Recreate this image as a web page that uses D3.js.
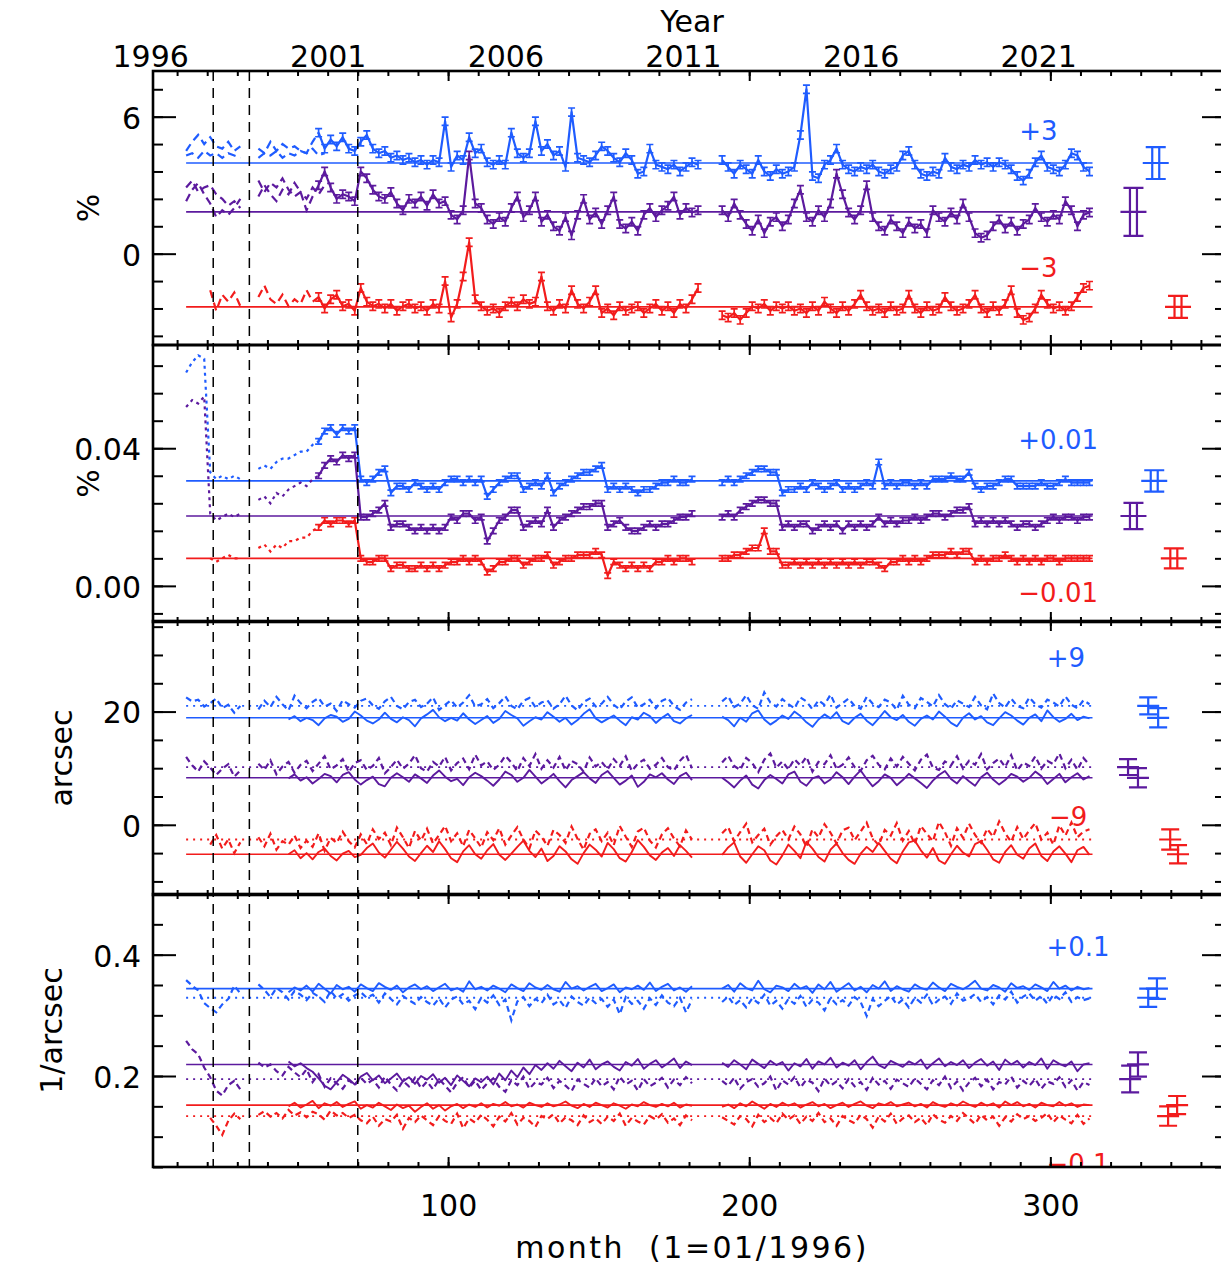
<!DOCTYPE html>
<html><head><meta charset="utf-8">
<script src="https://cdn.jsdelivr.net/npm/d3@7/dist/d3.min.js"></script>
<style>
html,body{margin:0;padding:0;background:#fff;}
svg{display:block;}
text{font-family:"DejaVu Sans",sans-serif;}
</style></head>
<body>
<svg id="chart" width="1221" height="1269" xmlns="http://www.w3.org/2000/svg"></svg>
<script>
// ---------------- DATA ----------------
const months = d3.range(13, 314, 2);        // 13,15,...,313
const earlyMonths = d3.range(13, 60, 2);    // 13..59
const monthTicks = d3.range(10, 360, 10);
const monthLabels = [100, 200, 300];
const yearTicks = [1996, 2001, 2006, 2011, 2016, 2021];
const yearDomain = [1996.08, 2026.26];
const eventMonths = [22, 34, 70];
const colorNames = ['blue', 'purple', 'red'];

// Panel 1 (%), plotted with offsets +3 / 0 / -3
const p1Blue = [
4.5,4.9,5.2,4.8,5.1,4.7,4.6,4.9,4.5,4.7,
null,null,4.6,4.4,4.9,4.5,4.8,4.6,4.7,4.5,
4.4,4.9,5.3,4.6,5.0,4.7,5.1,4.6,4.5,4.9,
5.2,4.6,4.4,4.5,4.2,4.3,4.1,4.2,4.0,4.1,
3.9,4.1,4.0,5.8,3.8,4.3,4.1,5.1,4.4,4.6,
4.0,3.9,4.1,3.9,5.3,4.4,4.2,4.4,5.8,4.5,
4.8,4.3,4.5,3.8,6.2,4.2,4.1,4.0,4.3,4.7,
4.5,4.2,4.0,4.4,4.1,3.5,3.6,4.6,3.9,3.8,
3.7,3.9,3.6,3.8,4.0,3.9,null,null,null,4.1,
3.8,3.5,3.9,3.7,3.5,4.1,3.6,3.4,3.7,3.5,
3.6,3.8,5.2,7.2,3.4,3.3,3.9,4.1,4.6,3.9,
3.7,3.6,3.8,3.7,3.9,3.6,3.5,3.7,3.8,4.3,
4.5,3.9,3.5,3.4,3.6,3.5,4.2,3.8,3.7,3.9,
3.8,4.1,3.9,4.0,3.8,4.0,3.9,3.7,3.4,3.2,
3.5,4.0,4.3,3.8,3.7,3.6,3.9,4.4,4.3,3.8,
3.6];
const p1BlueEarly = [4.3,4.4,4.2,4.5,4.3,4.4,4.2,4.4,4.3,4.2,null,null,4.2,4.4,4.3,4.5,4.2,4.4,4.3,4.5,4.4,4.6,4.3,4.4];
const p1Purple = [
2.3,2.8,3.1,2.6,2.2,1.6,1.9,1.7,2.0,2.4,
null,null,2.5,3.0,2.6,2.3,2.8,2.6,3.1,2.7,
1.9,2.5,3.0,3.6,2.9,2.4,2.6,2.5,2.3,3.6,
3.3,2.8,2.5,2.4,2.7,2.2,1.9,2.4,2.2,2.5,
2.1,2.6,2.2,2.3,1.7,1.5,1.9,4.3,2.2,2.0,
1.5,1.3,1.6,1.4,2.0,2.5,1.6,1.9,2.5,1.4,
1.7,1.2,1.0,1.6,0.8,1.7,2.4,1.5,1.8,1.3,
1.9,2.5,1.3,1.1,1.4,1.0,1.7,2.0,1.6,1.9,
2.1,2.5,1.7,2.0,1.8,1.9,null,null,null,1.9,
1.6,2.2,1.7,1.3,1.0,1.5,0.9,1.4,1.6,1.2,
1.5,2.2,2.8,1.6,1.4,1.9,1.6,2.2,3.5,2.6,
1.8,1.5,1.9,3.0,1.6,1.2,1.0,1.5,1.2,0.9,
1.4,1.1,1.3,0.9,1.9,1.6,1.4,1.8,1.5,2.2,
1.6,0.9,0.7,0.8,1.2,1.5,1.1,1.4,1.0,1.3,
1.5,2.0,1.6,1.4,1.7,1.5,2.3,1.9,1.2,1.7,
1.8];
const p1PurpleEarly = [2.9,3.2,2.7,2.9,3.0,2.6,2.4,2.1,2.3,2.0,null,null,3.2,2.7,3.1,2.9,3.3,2.8,2.5,2.7,2.4,2.9,2.6,3.0];
const p1Red = [
null,null,null,null,-1.6,-2.5,-1.8,-2.1,-1.7,-2.3,
null,null,-1.9,-1.4,-2.0,-2.2,-1.8,-2.3,-2.0,-2.2,
-1.6,-2.1,-1.9,-2.4,-2.0,-1.8,-2.3,-2.2,-2.5,-1.5,
-2.1,-2.3,-2.2,-2.4,-2.2,-2.5,-2.3,-2.2,-2.4,-2.3,
-2.5,-2.2,-2.4,-1.2,-2.8,-2.2,-1.0,0.5,-2.0,-2.3,
-2.5,-2.4,-2.6,-2.3,-2.1,-2.3,-2.0,-2.2,-2.1,-1.0,
-2.3,-2.5,-2.2,-2.4,-1.6,-2.2,-2.4,-2.1,-1.6,-2.6,
-2.4,-2.7,-2.3,-2.5,-2.4,-2.3,-2.6,-2.4,-2.2,-2.5,
-2.3,-2.6,-2.2,-2.4,-2.0,-1.5,null,null,null,-2.7,
-2.8,-2.6,-2.9,-2.6,-2.3,-2.4,-2.2,-2.5,-2.3,-2.4,
-2.3,-2.5,-2.4,-2.6,-2.3,-2.5,-2.1,-2.4,-2.6,-2.3,
-2.5,-2.2,-1.8,-2.3,-2.5,-2.4,-2.6,-2.3,-2.5,-2.4,
-1.8,-2.4,-2.6,-2.3,-2.5,-2.4,-1.9,-2.3,-2.5,-2.4,
-2.2,-1.8,-2.4,-2.6,-2.3,-2.5,-2.2,-1.6,-2.6,-2.9,
-2.8,-2.4,-1.8,-2.2,-2.4,-2.3,-2.5,-2.3,-1.9,-1.5,
-1.4];

// Panel 2 (%), offsets +0.01 / 0 / -0.01
const p2Blue = [
0.062,0.065,0.067,0.066,0.033,0.031,0.032,0.031,0.032,0.031,
null,null,0.034,0.035,0.034,0.036,0.037,0.037,0.038,0.039,
0.039,0.041,0.042,0.045,0.046,0.044,0.046,0.045,0.046,0.031,
0.030,0.031,0.033,0.034,0.027,0.029,0.029,0.028,0.030,0.029,
0.028,0.029,0.028,0.030,0.031,0.031,0.030,0.031,0.030,0.031,
0.026,0.028,0.030,0.031,0.032,0.032,0.028,0.029,0.030,0.029,
0.032,0.027,0.029,0.030,0.031,0.032,0.033,0.033,0.034,0.035,
0.028,0.029,0.028,0.029,0.028,0.027,0.028,0.028,0.029,0.030,
0.030,0.031,0.030,0.030,0.031,null,null,null,null,0.030,
0.031,0.030,0.031,0.032,0.033,0.034,0.034,0.033,0.033,0.027,
0.028,0.028,0.029,0.028,0.030,0.029,0.028,0.029,0.030,0.028,
0.029,0.028,0.029,0.030,0.029,0.036,0.029,0.030,0.029,0.030,
0.030,0.029,0.030,0.029,0.031,0.031,0.031,0.032,0.031,0.031,
0.033,0.029,0.028,0.029,0.029,0.030,0.031,0.031,0.029,0.029,
0.029,0.029,0.030,0.029,0.029,0.030,0.031,0.030,0.030,0.030,
0.030];
const p2Purple = [
0.052,0.054,0.053,0.055,0.021,0.019,0.020,0.021,0.020,0.021,
null,null,0.025,0.026,0.024,0.027,0.026,0.028,0.029,0.030,
0.029,0.031,0.032,0.035,0.037,0.036,0.038,0.037,0.038,0.020,
0.020,0.021,0.022,0.024,0.017,0.018,0.018,0.017,0.016,0.017,
0.016,0.017,0.016,0.017,0.020,0.019,0.021,0.021,0.019,0.020,
0.013,0.016,0.019,0.020,0.022,0.022,0.017,0.018,0.019,0.018,
0.022,0.017,0.019,0.020,0.021,0.022,0.023,0.023,0.024,0.024,
0.017,0.018,0.019,0.017,0.016,0.016,0.017,0.018,0.017,0.018,
0.018,0.019,0.020,0.020,0.021,null,null,null,null,0.020,
0.021,0.020,0.022,0.023,0.024,0.025,0.025,0.024,0.024,0.017,
0.018,0.017,0.018,0.018,0.016,0.017,0.018,0.017,0.018,0.016,
0.018,0.017,0.018,0.017,0.018,0.020,0.018,0.019,0.018,0.019,
0.019,0.020,0.019,0.020,0.021,0.021,0.020,0.021,0.022,0.022,
0.023,0.018,0.019,0.018,0.019,0.018,0.019,0.018,0.017,0.018,
0.018,0.017,0.018,0.019,0.020,0.019,0.020,0.020,0.019,0.020,
0.020];
const p2Red = [
null,null,null,null,0.008,0.007,0.008,0.009,0.008,0.008,
null,null,0.011,0.012,0.010,0.012,0.011,0.013,0.013,0.014,
0.014,0.016,0.017,0.019,0.018,0.019,0.019,0.018,0.019,0.008,
0.007,0.007,0.008,0.008,0.005,0.006,0.006,0.005,0.005,0.006,
0.005,0.006,0.005,0.006,0.007,0.007,0.008,0.007,0.008,0.007,
0.004,0.005,0.007,0.007,0.008,0.008,0.006,0.007,0.008,0.008,
0.009,0.006,0.007,0.008,0.008,0.009,0.009,0.009,0.010,0.009,
0.003,0.007,0.006,0.005,0.006,0.005,0.006,0.005,0.007,0.007,
0.008,0.007,0.008,0.008,0.007,null,null,null,null,0.008,
0.008,0.009,0.009,0.010,0.011,0.011,0.016,0.010,0.010,0.006,
0.006,0.007,0.006,0.007,0.006,0.007,0.006,0.007,0.006,0.007,
0.006,0.007,0.006,0.007,0.007,0.006,0.005,0.007,0.007,0.008,
0.007,0.008,0.007,0.008,0.009,0.009,0.009,0.010,0.009,0.010,
0.010,0.007,0.008,0.007,0.008,0.008,0.009,0.008,0.007,0.008,
0.007,0.008,0.007,0.008,0.008,0.007,0.008,0.008,0.008,0.008,
0.008];

// Panel 3 (arcsec), offsets +9 / 0 / -9 ; solid and dashed series
const p3BlueSolid = [
null,null,null,null,null,null,null,null,null,null,
null,null,null,null,null,null,null,18.6,19.2,18.3,
18.9,18.5,17.6,18.8,19.4,19.1,18.2,18.7,20.0,19.3,
18.4,17.9,18.6,19.8,18.7,18.1,19.0,18.5,17.4,18.8,
19.5,20.3,19.0,18.3,18.9,18.4,19.7,18.6,17.8,18.5,
19.2,18.0,18.7,20.1,19.4,18.8,17.5,18.3,19.0,18.6,
19.9,19.1,18.2,18.9,17.7,18.5,19.6,20.4,18.8,18.1,
18.7,19.3,18.4,17.6,19.0,18.6,19.8,19.2,18.0,18.9,
19.6,18.3,17.9,18.8,19.4,null,null,null,null,19.1,
18.5,17.4,18.9,18.2,19.7,20.2,18.6,17.7,18.4,19.3,
18.7,20.0,19.2,18.1,17.3,18.6,19.5,18.8,19.9,18.3,
17.8,18.9,19.6,18.4,17.6,18.8,20.1,19.0,18.5,19.4,
18.2,17.5,18.7,19.3,18.6,20.0,19.1,18.0,17.4,18.9,
19.7,18.6,19.2,18.1,17.6,18.8,19.9,19.3,18.4,17.7,
18.9,19.5,18.3,20.2,19.0,18.2,18.7,19.6,18.5,19.1,
18.8];
const p3BlueDash = [
22.5,21.8,22.1,20.9,21.5,22.3,20.6,21.2,19.8,21.0,
null,null,20.4,21.9,20.8,22.6,21.3,20.2,22.8,21.5,
20.6,21.7,22.4,20.9,21.4,20.1,22.0,21.3,20.7,21.9,
22.3,21.1,20.5,21.8,22.6,21.0,20.4,21.7,22.1,20.8,
21.4,22.5,20.3,21.2,22.0,20.7,21.6,22.9,20.9,21.3,
22.2,20.6,21.5,22.7,21.0,20.4,21.9,22.4,20.8,21.6,
22.0,20.5,21.3,22.8,21.1,20.2,21.7,22.3,20.9,21.4,
22.6,21.2,20.4,21.8,22.5,20.7,21.3,22.1,20.6,21.9,
22.4,21.0,20.3,21.6,22.2,null,null,null,null,21.8,
22.7,20.8,21.4,22.9,21.1,20.5,23.4,21.6,20.9,22.2,
21.3,20.6,22.5,21.8,20.4,22.0,21.2,23.0,20.7,21.5,
22.3,21.0,20.5,22.6,21.4,20.8,22.1,21.6,20.3,22.8,
21.2,20.6,22.4,21.7,20.9,22.9,21.3,20.5,22.0,21.4,
20.8,22.6,21.1,20.4,23.2,21.5,20.7,22.3,21.0,20.6,
22.5,21.3,20.7,22.1,21.6,20.9,22.7,21.2,20.6,22.0,
21.3];
const p3PurpleSolid = [
null,null,null,null,null,null,null,null,null,null,
null,null,null,null,null,null,null,8.2,8.9,7.8,
8.4,7.3,8.1,9.0,8.6,7.5,8.8,9.3,8.0,7.1,
7.9,8.5,7.2,6.8,8.3,9.1,8.4,7.6,8.9,8.2,
7.4,8.7,9.6,8.5,7.7,8.1,7.0,8.4,9.2,8.6,
7.8,6.9,8.0,9.4,8.8,7.6,8.3,9.7,8.5,7.3,
8.1,9.0,7.7,6.6,7.9,8.6,9.3,8.2,7.4,8.8,
9.5,8.3,7.1,7.8,8.7,6.7,7.6,8.9,8.4,9.1,
8.0,7.2,8.6,9.2,7.9,null,null,null,null,8.3,
7.5,6.6,7.8,8.7,7.1,6.4,7.9,8.8,8.1,7.3,
8.9,9.4,7.6,6.9,8.2,8.6,7.3,8.0,9.3,8.4,
7.2,8.5,9.6,8.1,6.8,7.7,8.9,8.3,7.0,7.9,
9.0,8.2,7.4,6.5,7.8,8.8,9.5,8.1,7.3,8.6,
7.7,6.9,8.4,9.2,8.0,7.1,7.9,9.0,8.5,7.6,
8.3,9.4,8.6,7.2,8.1,9.0,7.5,8.4,9.1,8.0,
8.6];
const p3PurpleDash = [
12.0,10.5,9.4,11.2,10.1,8.8,9.9,10.7,8.5,9.6,
null,null,10.8,9.7,11.4,8.9,10.3,11.1,9.2,10.6,
11.3,9.5,10.8,12.1,9.8,10.5,11.6,9.3,10.9,11.4,
9.7,10.4,11.8,9.1,10.2,11.5,9.9,10.8,12.3,10.0,
9.4,11.1,10.3,12.0,9.6,10.9,11.7,9.8,12.4,10.5,
11.2,9.7,10.6,12.2,11.0,9.5,11.8,10.4,12.5,9.9,
11.4,10.1,12.0,9.6,11.3,10.7,9.4,11.9,10.3,11.1,
9.8,11.6,10.4,12.1,9.5,10.8,11.5,9.9,10.6,11.8,
10.2,9.6,11.3,12.4,10.0,null,null,null,null,11.0,
12.2,10.4,9.7,11.8,10.9,9.3,11.5,12.6,10.1,11.2,
9.8,11.6,10.5,12.0,9.4,11.1,10.7,12.3,9.9,10.6,
11.9,10.2,9.5,11.4,12.2,10.6,9.8,11.7,10.3,12.0,
10.8,9.6,11.5,12.4,10.1,9.7,11.2,10.5,12.1,9.9,
11.3,10.6,12.5,9.8,10.9,11.7,10.2,12.3,9.6,11.0,
10.4,12.1,9.9,11.3,10.7,12.6,10.0,11.5,9.7,11.8,
10.6];
const p3RedSolid = [
null,null,null,null,null,null,null,null,null,null,
null,null,null,null,null,null,null,-5.2,-4.5,-5.9,
-5.0,-6.1,-4.8,-4.2,-5.5,-6.3,-5.1,-4.6,-5.7,-5.3,
-4.1,-3.3,-4.9,-5.8,-4.4,-3.0,-4.2,-5.6,-6.4,-5.0,
-3.7,-4.8,-2.9,-4.3,-5.9,-6.6,-4.7,-3.6,-5.2,-6.0,
-4.5,-3.4,-5.3,-6.2,-5.1,-3.9,-2.8,-4.6,-5.7,-4.2,
-6.4,-5.5,-3.8,-4.7,-6.1,-6.9,-5.0,-3.5,-4.4,-5.6,
-3.2,-4.3,-5.9,-6.5,-4.8,-2.7,-3.9,-5.4,-6.2,-4.9,
-4.1,-5.5,-3.6,-4.6,-5.8,null,null,null,null,-5.3,
-4.0,-3.1,-5.6,-6.7,-5.2,-3.8,-4.5,-6.3,-7.0,-5.4,
-3.5,-4.6,-5.9,-3.0,-4.2,-5.7,-6.5,-4.4,-3.3,-5.0,
-6.2,-6.9,-5.1,-3.9,-4.8,-3.2,-4.6,-6.0,-6.8,-4.7,
-3.1,-2.8,-4.5,-5.8,-4.1,-6.3,-6.9,-5.2,-3.7,-4.9,
-5.6,-3.4,-2.9,-4.4,-6.1,-6.7,-4.8,-3.6,-5.3,-6.0,
-4.2,-3.3,-5.5,-6.4,-4.7,-3.8,-5.1,-6.6,-4.5,-3.9,
-5.3];
const p3RedDash = [
null,null,null,null,-3.5,-1.8,-4.2,-2.6,-5.0,-3.1,
null,null,-2.2,-3.8,-1.6,-4.4,-2.9,-3.5,-1.9,-4.1,
-2.8,-3.9,-1.5,-4.6,-2.3,-3.2,-1.2,-2.9,-4.0,-1.7,
-3.4,-0.8,-2.5,-1.4,-3.6,-0.5,-2.2,-4.1,-1.1,-2.8,
-0.7,-3.3,-1.8,-0.2,-2.9,-1.5,-3.8,-0.9,-2.4,-4.0,
-1.3,-2.7,-0.6,-3.5,-1.9,-0.4,-2.6,-4.2,-1.0,-2.1,
-3.7,-0.9,-1.8,-3.2,-0.3,-2.5,-4.4,-1.6,-0.8,-2.9,
-1.4,-3.6,-0.2,-2.1,-3.9,-1.2,-0.5,-2.8,-4.0,-1.7,
-0.6,-2.4,-3.8,-1.0,-2.6,null,null,null,null,-1.5,
-0.4,-2.9,-1.3,0.2,-3.1,-1.8,-0.7,-3.5,-2.0,-0.9,
-2.6,-0.3,-1.7,-3.9,-0.8,-2.2,0.1,-1.4,-3.3,-1.0,
-0.5,-2.7,-1.2,0.4,-2.4,-3.6,-0.9,-1.9,0.3,-2.8,
-1.1,-3.4,-0.2,-1.6,-2.9,0.5,-1.3,-3.7,-0.6,-2.3,
0.2,-1.8,-3.2,-0.7,-2.1,0.6,-1.5,-3.0,-0.4,-2.5,
-1.0,0.3,-2.6,-1.4,-3.5,-0.1,-1.9,0.4,-2.2,-1.2,
-0.8];

// Panel 4 (1/arcsec), offsets +0.1 / 0 / -0.1 ; solid and dashed series
const p4BlueSolid = [
null,null,null,null,null,null,null,null,null,null,
null,null,null,null,null,null,null,0.338,0.346,0.341,
0.349,0.339,0.352,0.344,0.336,0.350,0.343,0.347,0.339,0.351,
0.345,0.340,0.353,0.347,0.342,0.349,0.338,0.346,0.351,0.343,
0.348,0.340,0.346,0.352,0.341,0.345,0.339,0.356,0.343,0.347,
0.341,0.349,0.344,0.338,0.351,0.345,0.340,0.353,0.346,0.342,
0.350,0.343,0.339,0.355,0.344,0.348,0.341,0.347,0.352,0.340,
0.345,0.351,0.338,0.346,0.343,0.349,0.342,0.354,0.340,0.347,
0.352,0.341,0.346,0.339,0.348,null,null,null,null,0.344,
0.350,0.339,0.353,0.345,0.341,0.357,0.343,0.338,0.349,0.346,
0.340,0.352,0.344,0.348,0.337,0.351,0.343,0.355,0.339,0.346,
0.353,0.341,0.347,0.338,0.350,0.344,0.356,0.340,0.348,0.343,
0.339,0.351,0.345,0.342,0.354,0.346,0.340,0.352,0.347,0.343,
0.349,0.357,0.344,0.341,0.350,0.346,0.339,0.353,0.345,0.348,
0.342,0.351,0.346,0.340,0.355,0.344,0.349,0.341,0.347,0.343,
0.345];
const p4BlueDash = [
0.358,0.349,0.341,0.320,0.312,0.305,0.318,0.327,0.349,0.336,
null,null,0.351,0.342,0.330,0.345,0.338,0.326,0.340,0.334,
0.325,0.337,0.331,0.322,0.340,0.328,0.335,0.324,0.333,0.338,
0.329,0.334,0.321,0.336,0.327,0.318,0.332,0.325,0.319,0.330,
0.322,0.316,0.328,0.313,0.326,0.331,0.318,0.324,0.310,0.329,
0.321,0.333,0.317,0.326,0.292,0.323,0.330,0.315,0.327,0.320,
0.334,0.318,0.325,0.312,0.331,0.322,0.316,0.329,0.320,0.327,
0.314,0.326,0.302,0.330,0.319,0.324,0.311,0.328,0.317,0.333,
0.321,0.315,0.329,0.305,0.326,null,null,null,null,0.322,
0.331,0.317,0.325,0.313,0.328,0.320,0.334,0.316,0.324,0.311,
0.327,0.319,0.332,0.314,0.326,0.321,0.308,0.329,0.318,0.325,
0.316,0.330,0.322,0.299,0.327,0.315,0.324,0.332,0.318,0.326,
0.313,0.329,0.321,0.334,0.317,0.326,0.331,0.319,0.336,0.324,
0.328,0.335,0.322,0.330,0.318,0.333,0.326,0.339,0.321,0.331,
0.336,0.324,0.332,0.319,0.334,0.327,0.338,0.322,0.330,0.325,
0.328];
const p4PurpleSolid = [
null,null,null,null,null,null,null,null,null,null,
null,null,null,null,null,null,null,0.224,0.216,0.221,
0.213,0.207,0.196,0.184,0.178,0.190,0.202,0.195,0.186,0.199,
0.205,0.193,0.201,0.188,0.196,0.204,0.191,0.198,0.187,0.200,
0.194,0.203,0.189,0.197,0.185,0.201,0.192,0.183,0.196,0.190,
0.199,0.186,0.204,0.193,0.209,0.198,0.214,0.203,0.218,0.210,
0.221,0.212,0.225,0.216,0.208,0.222,0.214,0.227,0.211,0.219,
0.224,0.215,0.209,0.223,0.217,0.228,0.212,0.220,0.226,0.214,
0.221,0.229,0.213,0.224,0.218,null,null,null,null,0.222,
0.215,0.226,0.219,0.211,0.227,0.220,0.213,0.225,0.218,0.223,
0.209,0.221,0.216,0.228,0.212,0.224,0.219,0.230,0.214,0.222,
0.217,0.226,0.211,0.223,0.232,0.218,0.213,0.225,0.220,0.215,
0.224,0.219,0.227,0.212,0.221,0.229,0.216,0.223,0.218,0.226,
0.213,0.222,0.228,0.217,0.224,0.210,0.227,0.219,0.225,0.214,
0.223,0.218,0.229,0.212,0.226,0.220,0.216,0.224,0.208,0.219,
0.221];
const p4PurpleDash = [
0.258,0.244,0.236,0.214,0.198,0.176,0.168,0.185,0.192,0.178,
null,null,0.222,0.214,0.219,0.208,0.201,0.215,0.206,0.198,
0.211,0.190,0.203,0.182,0.196,0.188,0.179,0.193,0.185,0.197,
0.187,0.194,0.181,0.199,0.186,0.176,0.192,0.183,0.197,0.180,
0.191,0.178,0.195,0.184,0.173,0.189,0.198,0.181,0.192,0.177,
0.188,0.196,0.182,0.174,0.193,0.185,0.199,0.179,0.190,0.186,
0.197,0.180,0.192,0.184,0.175,0.194,0.187,0.181,0.196,0.183,
0.190,0.178,0.199,0.186,0.192,0.176,0.195,0.183,0.189,0.197,
0.181,0.194,0.185,0.198,0.188,null,null,null,null,0.192,
0.184,0.197,0.179,0.190,0.195,0.182,0.188,0.199,0.176,0.193,
0.186,0.198,0.181,0.194,0.189,0.175,0.196,0.184,0.191,0.180,
0.195,0.183,0.190,0.177,0.197,0.186,0.192,0.179,0.194,0.188,
0.182,0.196,0.187,0.178,0.193,0.185,0.199,0.180,0.191,0.176,
0.189,0.197,0.183,0.194,0.178,0.190,0.186,0.199,0.181,0.192,
0.184,0.195,0.179,0.191,0.187,0.198,0.182,0.193,0.176,0.190,
0.185];
const p4RedSolid = [
null,null,null,null,null,null,null,null,null,null,
null,null,null,null,null,null,null,0.150,0.156,0.148,
0.153,0.159,0.147,0.155,0.151,0.157,0.149,0.154,0.158,0.146,
0.152,0.148,0.156,0.150,0.144,0.153,0.147,0.151,0.141,0.149,
0.155,0.146,0.152,0.143,0.150,0.154,0.147,0.153,0.149,0.155,
0.148,0.154,0.151,0.157,0.150,0.153,0.148,0.156,0.152,0.149,
0.155,0.150,0.153,0.158,0.151,0.147,0.154,0.149,0.156,0.152,
0.148,0.155,0.151,0.146,0.153,0.150,0.157,0.152,0.149,0.154,
0.150,0.156,0.148,0.153,0.151,null,null,null,null,0.149,
0.153,0.147,0.155,0.150,0.158,0.152,0.146,0.154,0.149,0.156,
0.151,0.155,0.148,0.153,0.157,0.150,0.154,0.147,0.152,0.156,
0.149,0.154,0.158,0.151,0.147,0.155,0.152,0.157,0.150,0.153,
0.156,0.150,0.154,0.148,0.157,0.152,0.149,0.155,0.151,0.158,
0.153,0.149,0.156,0.151,0.155,0.148,0.158,0.152,0.157,0.150,
0.154,0.148,0.156,0.152,0.150,0.157,0.151,0.155,0.149,0.153,
0.152];
const p4RedDash = [
null,null,null,null,0.131,0.118,0.103,0.126,0.138,0.129,
null,null,0.136,0.142,0.133,0.139,0.130,0.144,0.135,0.140,
0.132,0.141,0.137,0.128,0.143,0.135,0.139,0.131,0.136,0.127,
0.122,0.133,0.118,0.129,0.125,0.136,0.113,0.131,0.124,0.135,
0.127,0.119,0.134,0.126,0.121,0.138,0.114,0.130,0.123,0.136,
0.128,0.117,0.133,0.125,0.139,0.120,0.131,0.126,0.116,0.134,
0.129,0.137,0.122,0.132,0.127,0.119,0.135,0.124,0.130,0.121,
0.133,0.126,0.138,0.118,0.131,0.125,0.120,0.134,0.128,0.137,
0.123,0.130,0.119,0.135,0.127,null,null,null,null,0.132,
0.126,0.120,0.134,0.129,0.117,0.136,0.124,0.131,0.122,0.138,
0.128,0.135,0.121,0.133,0.126,0.139,0.124,0.130,0.118,0.134,
0.127,0.122,0.136,0.129,0.115,0.133,0.125,0.138,0.121,0.130,
0.135,0.124,0.131,0.119,0.137,0.128,0.123,0.134,0.126,0.139,
0.130,0.121,0.136,0.127,0.133,0.118,0.132,0.125,0.137,0.129,
0.134,0.126,0.131,0.139,0.124,0.135,0.128,0.122,0.136,0.121,
0.130];

// Mean levels (horizontal reference lines)
const p1Means = [3.97, 1.83, -2.33];
const p2Means = [0.0305, 0.0203, 0.0080];
const p3MeansSolid = [18.9, 8.3, -5.2];
const p3MeansDash = [21.0, 10.2, -2.6];
const p4MeansSolid = [0.344, 0.219, 0.152];
const p4MeansDash = [0.329, 0.195, 0.134];

// Summary error bars on the right: [colour index, month position, mean, sigma]
const p1Summary = [[0, 335, 3.97, 0.70], [1, 327.6, 1.83, 1.05], [2, 342.4, -2.33, 0.48]];
const p2Summary = [[0, 334.5, 0.0305, 0.0031], [1, 327.6, 0.0203, 0.0038], [2, 341, 0.0080, 0.0029]];
const p3Summary = [[0, 332.5, 21.0, 1.5], [0, 335.8, 18.9, 1.7], [1, 325.8, 10.2, 1.4], [1, 329.1, 8.3, 1.7], [2, 339.8, -2.6, 1.8], [2, 342.4, -5.2, 1.6]];
const p4Summary = [[0, 332.5, 0.329, 0.015], [0, 335.4, 0.344, 0.017], [1, 326.5, 0.195, 0.022], [1, 329.1, 0.219, 0.020], [2, 339.1, 0.134, 0.016], [2, 342.1, 0.152, 0.015]];

// Offset labels
const offsetLabels = [
  [['+3', 0, 296, 5.37], ['−3', 2, 296, -0.63]],
  [['+0.01', 0, 302.6, 0.0424], ['−0.01', 2, 302.6, -0.0021]],
  [['+9', 0, 305.2, 29.5], ['−9', 2, 305.9, 1.45]],
  [['+0.1', 0, 309.2, 0.412], ['−0.1', 2, 309.2, 0.0555]]
];

// ---------------- LAYOUT / STYLE ----------------
const COLORS = ['#1f5cff', '#5c1a9e', '#f21c1c'];
const FONT = '"DejaVu Sans", sans-serif';
const X0 = 153, X1 = 1225;
const x = d3.scaleLinear().domain([2, 358]).range([X0, X1]);
const xYear = d3.scaleLinear().domain(yearDomain).range([X0, X1]);

const panels = [
  {top: 71, bottom: 345, domain: [-4, 8], major: [0, 6], minor: d3.range(-3, 7).map(i => +(i * 1.2).toFixed(2)), fmt: d3.format('d'), title: '%', tx: 88,
   mode: 'err', err: 0.18, earlyDash: '8,5', series: [p1Blue, p1Purple, p1Red], early: [p1BlueEarly, p1PurpleEarly, null], means: p1Means, summary: p1Summary, double: true},
  {top: 345, bottom: 622, domain: [-0.0105, 0.07], major: [0, 0.04], minor: d3.range(-1, 9).map(i => +(i * 0.008).toFixed(3)), fmt: d3.format('.2f'), title: '%', tx: 88,
   mode: 'err', err: 0.0008, earlyDash: '3,4', series: [p2Blue, p2Purple, p2Red], early: [null, null, null], means: p2Means, summary: p2Summary, double: true},
  {top: 621, bottom: 895, domain: [-12.4, 36], major: [0, 20], minor: d3.range(-2, 8).map(i => i * 5), fmt: d3.format('d'), title: 'arcsec', tx: 61,
   mode: 'pair', solid: [p3BlueSolid, p3PurpleSolid, p3RedSolid], dash: [p3BlueDash, p3PurpleDash, p3RedDash], means: p3MeansSolid, meansDash: p3MeansDash, summary: p3Summary, double: false},
  {top: 894, bottom: 1167, domain: [0.05, 0.5], major: [0.2, 0.4], minor: d3.range(1, 11).map(i => +(i * 0.05).toFixed(2)), fmt: d3.format('.1f'), title: '1/arcsec', tx: 51,
   mode: 'pair', solid: [p4BlueSolid, p4PurpleSolid, p4RedSolid], dash: [p4BlueDash, p4PurpleDash, p4RedDash], means: p4MeansSolid, meansDash: p4MeansDash, summary: p4Summary, double: false}
];

const svg = d3.select('#chart');
svg.append('rect').attr('width', 1221).attr('height', 1269).attr('fill', '#fff');
const defs = svg.append('defs');

function styleAxis(g) {
  g.select('.domain').remove();
  g.attr('font-size', 30).attr('font-family', FONT);
  g.selectAll('line').attr('stroke', '#000').attr('stroke-width', 2);
  g.selectAll('text').attr('fill', '#000');
}

const line = y => d3.line().defined(d => d.v != null).x(d => x(d.m)).y(d => y(d.v));
const mStart = 13, mEnd = 314;

panels.forEach((p, pi) => {
  const y = d3.scaleLinear().domain(p.domain).range([p.bottom, p.top]);
  const clipId = 'clip' + pi;
  defs.append('clipPath').attr('id', clipId).append('rect')
    .attr('x', X0).attr('y', p.top).attr('width', X1 - X0).attr('height', p.bottom - p.top);
  const g = svg.append('g').attr('clip-path', `url(#${clipId})`);

  // mean lines
  p.means.forEach((mv, ci) => {
    g.append('line').attr('x1', x(mStart)).attr('x2', x(mEnd)).attr('y1', y(mv)).attr('y2', y(mv))
      .attr('stroke', COLORS[ci]).attr('stroke-width', 1.6);
  });
  if (p.meansDash) p.meansDash.forEach((mv, ci) => {
    g.append('line').attr('x1', x(mStart)).attr('x2', x(mEnd)).attr('y1', y(mv)).attr('y2', y(mv))
      .attr('stroke', COLORS[ci]).attr('stroke-width', 1.8).attr('stroke-dasharray', '2,5');
  });

  const L = line(y);
  if (p.mode === 'err') {
    p.series.forEach((vals, ci) => {
      const pts = months.map((m, i) => ({m, v: vals[i]}));
      const early = pts.filter(d => d.m <= 57), late = pts.filter(d => d.m >= 57);
      g.append('path').datum(early).attr('d', L).attr('fill', 'none').attr('stroke', COLORS[ci])
        .attr('stroke-width', 2.2).attr('stroke-dasharray', p.earlyDash);
      if (p.early[ci]) {
        const ep = earlyMonths.map((m, i) => ({m, v: p.early[ci][i]}));
        g.append('path').datum(ep).attr('d', L).attr('fill', 'none').attr('stroke', COLORS[ci])
          .attr('stroke-width', 2.2).attr('stroke-dasharray', p.earlyDash);
      }
      g.append('path').datum(late).attr('d', L).attr('fill', 'none').attr('stroke', COLORS[ci])
        .attr('stroke-width', 2.2).attr('stroke-linejoin', 'round');
      g.append('g').selectAll('path').data(late.filter(d => d.v != null)).join('path')
        .attr('d', d => {
          const cx = x(d.m), a = y(d.v + p.err), b = y(d.v - p.err);
          return `M${cx},${a}V${b}M${cx - 3.5},${a}h7M${cx - 3.5},${b}h7`;
        })
        .attr('stroke', COLORS[ci]).attr('stroke-width', 1.7).attr('fill', 'none');
    });
  } else {
    p.dash.forEach((vals, ci) => {
      const pts = months.map((m, i) => ({m, v: vals[i]}));
      g.append('path').datum(pts).attr('d', L).attr('fill', 'none').attr('stroke', COLORS[ci])
        .attr('stroke-width', 2.2).attr('stroke-dasharray', '6,4');
    });
    p.solid.forEach((vals, ci) => {
      const pts = months.map((m, i) => ({m, v: vals[i]}));
      g.append('path').datum(pts).attr('d', L).attr('fill', 'none').attr('stroke', COLORS[ci])
        .attr('stroke-width', 1.9).attr('stroke-linejoin', 'round');
    });
  }

  // summary error bars
  g.append('g').selectAll('path').data(p.summary).join('path')
    .attr('d', ([ci, m, mean, sd]) => {
      const cx = x(m), a = y(mean + sd), b = y(mean - sd), c = y(mean);
      if (p.double) {
        return `M${cx - 3.5},${a}V${b}M${cx + 3.5},${a}V${b}M${cx - 10},${a}h20M${cx - 10},${b}h20M${cx - 13},${c}h26`;
      }
      return `M${cx},${a}V${b}M${cx - 9},${a}h18M${cx - 9},${b}h18M${cx - 11},${c}h22`;
    })
    .attr('stroke', d => COLORS[d[0]]).attr('stroke-width', 2.2).attr('fill', 'none');

  // offset labels
  g.append('g').selectAll('text').data(offsetLabels[pi]).join('text')
    .attr('x', d => x(d[2])).attr('y', d => y(d[3]))
    .attr('text-anchor', 'middle').attr('dominant-baseline', 'central')
    .attr('font-size', 26).attr('font-family', FONT)
    .attr('fill', d => COLORS[d[1]]).text(d => d[0]);

  // y axes (left with labels, right mirrored)
  svg.append('g').attr('transform', `translate(${X0},0)`)
    .call(d3.axisLeft(y).tickValues(p.minor).tickSize(-10).tickFormat('')).call(styleAxis);
  svg.append('g').attr('transform', `translate(${X0},0)`)
    .call(d3.axisLeft(y).tickValues(p.major).tickSize(-23).tickPadding(12).tickFormat(p.fmt)).call(styleAxis)
    .selectAll('text').attr('dy', '0.38em');
  svg.append('g').attr('transform', `translate(${X1},0)`)
    .call(d3.axisRight(y).tickValues(p.minor).tickSize(-10).tickFormat('')).call(styleAxis);
  svg.append('g').attr('transform', `translate(${X1},0)`)
    .call(d3.axisRight(y).tickValues(p.major).tickSize(-23).tickFormat('')).call(styleAxis);

  // x ticks on both edges of the panel
  svg.append('g').attr('transform', `translate(0,${p.bottom})`)
    .call(d3.axisBottom(x).tickValues(monthTicks).tickSize(-5).tickFormat('')).call(styleAxis);
  svg.append('g').attr('transform', `translate(0,${p.bottom})`)
    .call(d3.axisBottom(x).tickValues(monthLabels).tickSize(-10).tickPadding(28)
      .tickFormat(pi === panels.length - 1 ? d3.format('d') : '')).call(styleAxis);
  svg.append('g').attr('transform', `translate(0,${p.top})`)
    .call(d3.axisTop(x).tickValues(monthTicks).tickSize(-5).tickFormat('')).call(styleAxis);
  svg.append('g').attr('transform', `translate(0,${p.top})`)
    .call(d3.axisTop(x).tickValues(monthLabels).tickSize(-10).tickFormat('')).call(styleAxis);

  // border
  svg.append('rect').attr('x', X0).attr('y', p.top).attr('width', X1 - X0).attr('height', p.bottom - p.top)
    .attr('fill', 'none').attr('stroke', '#000').attr('stroke-width', 2.6);

  // y title
  svg.append('text').attr('transform', `translate(${p.tx},${(p.top + p.bottom) / 2}) rotate(-90)`)
    .attr('text-anchor', 'middle').attr('dominant-baseline', 'central')
    .attr('font-size', 30).attr('font-family', FONT).attr('fill', '#000').text(p.title);
});

// event (vertical dashed) lines across all panels
svg.append('g').selectAll('line').data(eventMonths).join('line')
  .attr('x1', d => x(d)).attr('x2', d => x(d))
  .attr('y1', panels[0].top).attr('y2', panels[panels.length - 1].bottom)
  .attr('stroke', '#000').attr('stroke-width', 1.5).attr('stroke-dasharray', '10,7');

// top year axis
svg.append('g').attr('transform', `translate(0,${panels[0].top})`)
  .call(d3.axisTop(xYear).tickValues(yearTicks).tickSize(0).tickPadding(4).tickFormat(d3.format('d')))
  .call(styleAxis);

svg.append('text').attr('x', x(181)).attr('y', 32).attr('text-anchor', 'middle')
  .attr('font-size', 30).attr('font-family', FONT).attr('fill', '#000').text('Year');
svg.append('text').attr('x', x(181)).attr('y', 1258).attr('text-anchor', 'middle')
  .attr('font-size', 30).attr('font-family', FONT).attr('fill', '#000')
  .attr('letter-spacing', 2.5).style('white-space', 'pre').text('month  (1=01/1996)');
</script>
</body></html>
